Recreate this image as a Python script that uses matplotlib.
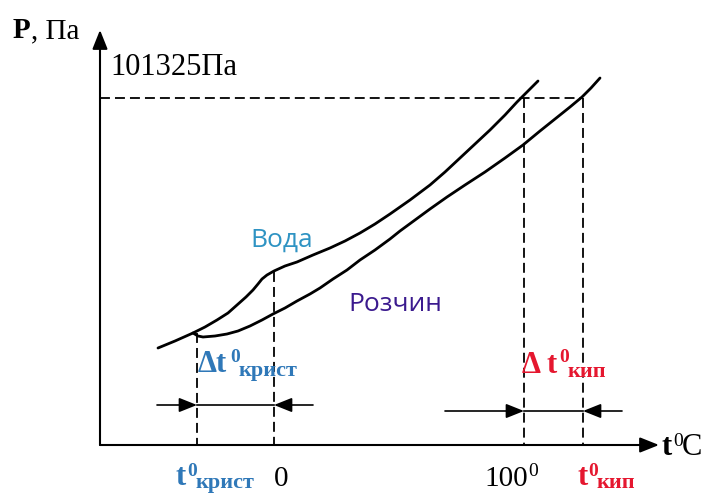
import matplotlib
matplotlib.use("Agg")
import matplotlib.pyplot as plt

plt.rcParams['font.family'] = ['Liberation Serif', 'DejaVu Serif']

W, H = 707, 494

# picture units: x grows to the right, y grows downwards (pixels of the scheme)
water_t = [158, 175, 193, 205, 217, 228, 237, 246, 253, 258, 262, 267, 274,
           285, 297, 313, 330, 345, 360, 375, 390, 410, 430, 445, 460, 475,
           490, 505, 517, 528, 538]
water_p = [348, 341, 333, 327, 320, 313, 305, 297, 290, 284, 279, 275, 271,
           266, 262, 255, 248, 241, 233, 224, 214, 200, 185, 172, 158, 144,
           130, 115, 102, 91, 81]
sol_t = [193, 198, 203, 215, 227, 238, 250, 262, 273, 285, 297, 310, 320,
         333, 347, 360, 375, 390, 400, 415, 430, 447, 465, 485, 505, 523,
         540, 555, 570, 582, 591, 600]
sol_p = [333, 336, 337, 336, 334, 331, 326, 320, 314, 308, 301, 294, 288,
         279, 270, 260, 250, 239, 231, 220, 209, 197, 185, 172, 158, 145,
         131, 119, 107, 97, 88, 78]

origin_t, origin_p = 100, 445
t_cryst, t_zero, t_hundred, t_boil = 197, 274, 524, 583
p_atm = 98
p_cryst, p_zero = 333, 272

C_BLUE = '#2F78B8'
C_RED = '#E5172F'
C_WATER = '#2E93C3'
C_SOL = '#3B1A8E'

fig = plt.figure(figsize=(W / 100, H / 100), dpi=100)
ax = fig.add_axes([0, 0, 1, 1])
ax.set_xlim(0, W)
ax.set_ylim(H, 0)
ax.axis('off')

head = '-|>,head_length=0.55,head_width=0.22'
arr = dict(arrowstyle=head, color='black', lw=1.5, mutation_scale=21,
           shrinkA=0, shrinkB=0)
# axes
ax.annotate('', xy=(origin_t, 30), xytext=(origin_t, origin_p), arrowprops=arr)
ax.annotate('', xy=(659, origin_p), xytext=(origin_t, origin_p), arrowprops=arr)

dash = (0, (5.5, 2.8))
ax.plot([origin_t, t_boil], [p_atm, p_atm], color='black', lw=1.3, ls=dash)
for x, ytop in [(t_cryst, p_cryst), (t_zero, p_zero),
                (t_hundred, p_atm), (t_boil, p_atm)]:
    ax.plot([x, x], [ytop, origin_p], color='black', lw=1.3, ls=dash)

# curves
ax.plot(water_t, water_p, color='black', lw=2.0, solid_capstyle='round',
        solid_joinstyle='round')
ax.plot(sol_t, sol_p, color='black', lw=2.0, solid_capstyle='round',
        solid_joinstyle='round')

# dimension arrows
dim = dict(arrowstyle=head, color='black', lw=1.2, mutation_scale=20,
           shrinkA=0, shrinkB=0)
for y, a, b, c, d in [(405, 157, t_cryst, t_zero, 313),
                      (411, 445, t_hundred, t_boil, 622)]:
    ax.annotate('', xy=(b, y), xytext=(a, y), arrowprops=dim)
    ax.annotate('', xy=(c, y), xytext=(d, y), arrowprops=dim)
    ax.plot([b, c], [y, y], color='black', lw=1.2)


def label(parts, color='black'):
    # parts: (x, baseline y, text, size, weight)
    for x, y, s, size, weight in parts:
        ax.text(x, y, s, fontsize=size, fontweight=weight, color=color,
                va='baseline', ha='left')


label([(13, 38, 'P', 21, 'bold'), (31, 38, ', Па', 21, 'normal')])
label([(110, 75, '101325Па', 22, 'normal')])
label([(662, 455, 't', 22, 'bold'), (673, 446, '0', 14, 'normal'),
       (682, 455, 'C', 22, 'normal')])

ax.text(250, 247, 'Вода', fontsize=19, family=['Open Sans', 'DejaVu Sans'],
        color=C_WATER, va='baseline', ha='left')
ax.text(348, 311, 'Розчин', fontsize=19, family=['Open Sans', 'DejaVu Sans'],
        color=C_SOL, va='baseline', ha='left')

label([(198, 372, 'Δt', 22, 'bold'), (230, 362, '0', 14, 'bold'),
       (239, 376, 'крист', 16, 'bold')], C_BLUE)
label([(522, 373, 'Δ t', 22, 'bold'), (559, 362, '0', 14, 'bold'),
       (568, 377, 'кип', 16, 'bold')], C_RED)

label([(175, 485, 't', 22, 'bold'), (187, 476, '0', 14, 'bold'),
       (196, 488, 'крист', 16, 'bold')], C_BLUE)
label([(274, 486, '0', 21, 'normal')])
label([(484, 486, '100', 21, 'normal'), (528, 476, '0', 14, 'normal')])
label([(577, 485, 't', 22, 'bold'), (588, 476, '0', 14, 'bold'),
       (597, 488, 'кип', 16, 'bold')], C_RED)

fig.savefig('out.png', dpi=100)
